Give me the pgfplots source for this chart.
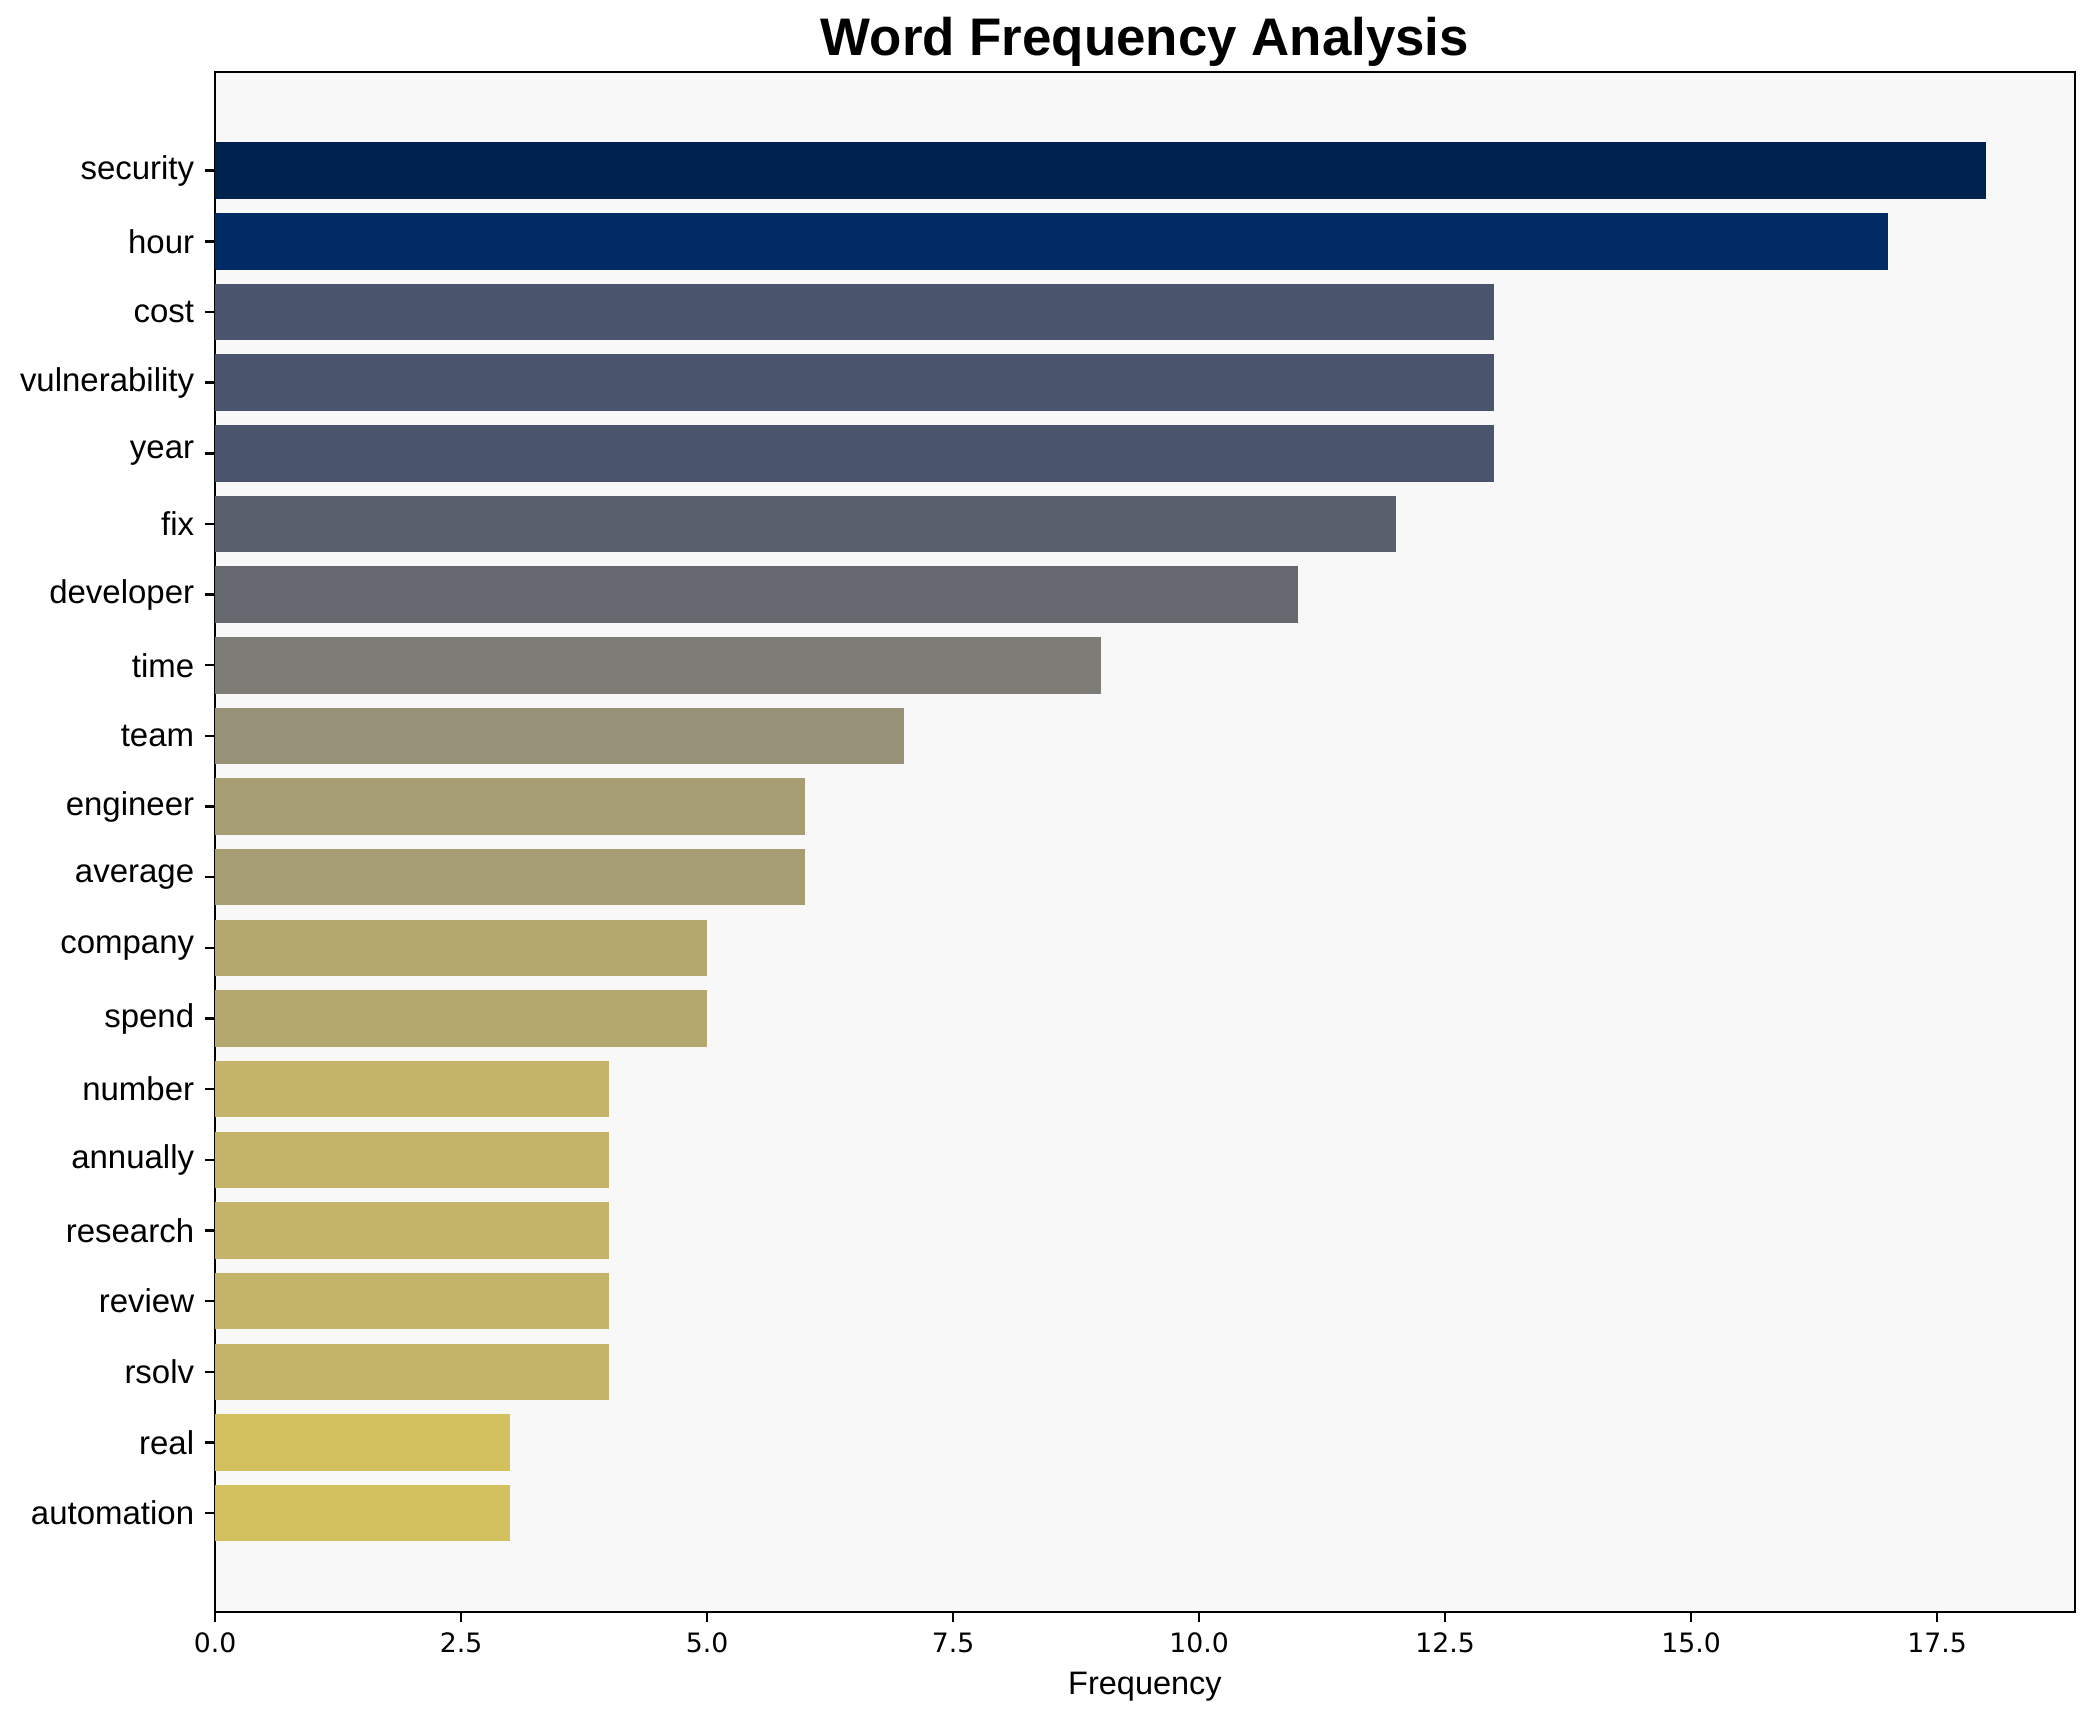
\documentclass[border=0pt]{standalone}
\usepackage{fontspec}
\setmainfont{Liberation Sans}
\newfontfamily\dejavu{DejaVu Sans}
\usepackage{pgfplots}
\pgfplotsset{compat=1.18}
\definecolor{bgc}{HTML}{F8F8F8}
\definecolor{c18}{HTML}{00224E}
\definecolor{c17}{HTML}{002B64}
\definecolor{c13}{HTML}{4A546C}
\definecolor{c12}{HTML}{5A5F6E}
\definecolor{c11}{HTML}{666870}
\definecolor{c9}{HTML}{7E7C76}
\definecolor{c7}{HTML}{979177}
\definecolor{c6}{HTML}{A69D72}
\definecolor{c5}{HTML}{B5A86F}
\definecolor{c4}{HTML}{C4B46A}
\definecolor{c3}{HTML}{D3C160}
\begin{document}
\begin{tikzpicture}
\useasboundingbox (-88.7pt,-45.4pt) rectangle (775.3pt,664.8pt);
\begin{axis}[
  at={(0,0)}, anchor=south west,
  scale only axis, width=767pt, height=635.2pt,
  axis background/.style={fill=bgc},
  xbar,
  every axis plot/.append style={bar shift=0pt, bar width=0.8, draw=none},
  xmin=0, xmax=18.9,
  ymin=-1.4, ymax=20.4, y dir=reverse,
  ytick={0,1,2,3,4,5,6,7,8,9,10,11,12,13,14,15,16,17,18,19},
  yticklabels={security,hour,cost,vulnerability,year,fix,developer,time,team,engineer,average,company,spend,number,annually,research,review,rsolv,real,automation},
  xtick={0,2.5,5,7.5,10,12.5,15,17.5},
  xticklabel style={/pgf/number format/fixed, /pgf/number format/fixed zerofill, /pgf/number format/precision=1, font=\dejavu\fontsize{11}{13}\selectfont, anchor=base, inner sep=0pt, yshift=-12.8pt},
  /pgf/number format/assume math mode=true,
  yticklabel style={font=\fontsize{13.6}{16}\selectfont, xshift=-1pt},
  tick align=outside,
  major tick length=4.1pt,
  tick style={black, line width=1pt},
  axis line style={black, line width=1pt},
  xtick pos=bottom, ytick pos=left,
  title={Word Frequency Analysis},
  title style={at={(0.5,1)}, anchor=base, yshift=0.6pt, font=\fontsize{21.8}{26}\selectfont\bfseries},
  xlabel={Frequency},
  xlabel style={at={(0.5,0)}, anchor=base, yshift=-34.2pt, font=\fontsize{13.4}{16}\selectfont},
]
\addplot[fill=c18] coordinates {(18,0)};
\addplot[fill=c17] coordinates {(17,1)};
\addplot[fill=c13] coordinates {(13,2)};
\addplot[fill=c13] coordinates {(13,3)};
\addplot[fill=c13] coordinates {(13,4)};
\addplot[fill=c12] coordinates {(12,5)};
\addplot[fill=c11] coordinates {(11,6)};
\addplot[fill=c9] coordinates {(9,7)};
\addplot[fill=c7] coordinates {(7,8)};
\addplot[fill=c6] coordinates {(6,9)};
\addplot[fill=c6] coordinates {(6,10)};
\addplot[fill=c5] coordinates {(5,11)};
\addplot[fill=c5] coordinates {(5,12)};
\addplot[fill=c4] coordinates {(4,13)};
\addplot[fill=c4] coordinates {(4,14)};
\addplot[fill=c4] coordinates {(4,15)};
\addplot[fill=c4] coordinates {(4,16)};
\addplot[fill=c4] coordinates {(4,17)};
\addplot[fill=c3] coordinates {(3,18)};
\addplot[fill=c3] coordinates {(3,19)};
\end{axis}
\end{tikzpicture}
\end{document}
